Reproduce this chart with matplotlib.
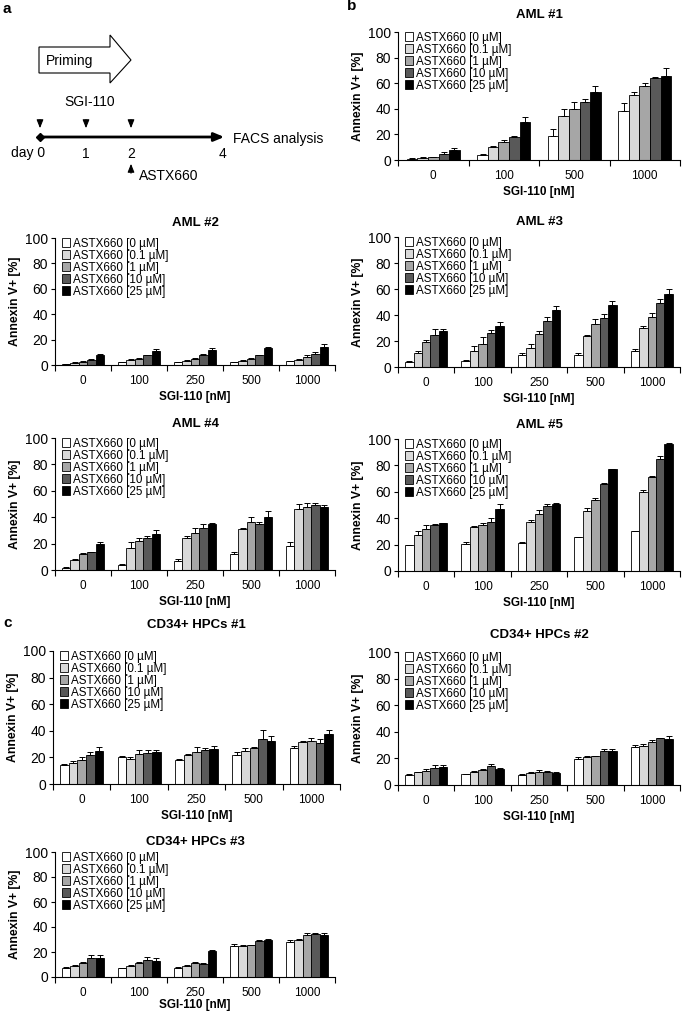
import numpy as np
import matplotlib
matplotlib.use('Agg')
import matplotlib.pyplot as plt
from matplotlib.patches import Polygon

plt.rcParams['font.family'] = ['Liberation Sans', 'DejaVu Sans']

# Legend labels and bar colours
doses = ['ASTX660 [0 µM]', 'ASTX660 [0.1 µM]', 'ASTX660 [1 µM]', 'ASTX660 [10 µM]', 'ASTX660 [25 µM]']
colors = ['#ffffff', '#d9d9d9', '#a6a6a6', '#595959', '#000000']

sgi4 = ['0', '100', '500', '1000']
sgi5 = ['0', '100', '250', '500', '1000']

# Means (rows = SGI-110 dose, cols = ASTX660 dose) and SD
aml1 = [[1, 1.5, 2, 5, 8], [4, 10.5, 14, 18, 30], [18.5, 34, 40, 45, 53], [38.5, 51, 57.5, 64, 66]]
aml1_err = [[0.3, 0.5, 0.5, 1.5, 1.5], [1, 0.3, 2, 0.5, 3.5], [6, 5.5, 5, 3, 5], [6, 2, 3, 0.5, 6]]

aml2 = [[0.5, 1.5, 2.5, 4, 8], [2, 4, 5, 7.5, 11], [2, 3.5, 5, 8, 12], [2, 3.5, 5, 7.5, 13], [3, 4, 6.5, 9, 14.5]]
aml2_err = [[0.3, 0.5, 0.5, 0.5, 1], [0.3, 0.5, 0.5, 0.5, 1.5], [0.5, 0.5, 0.8, 0.5, 1.5], [0.5, 0.3, 0.5, 0.5, 1.5], [0.5, 0.5, 1, 1.5, 2]]

aml3 = [[4, 10.5, 19, 25, 28], [5, 12, 18, 26.5, 31.5], [9.5, 15, 25.5, 35.5, 43.5], [9, 24, 33, 38, 48], [12.5, 30, 38.5, 49, 56]]
aml3_err = [[0.5, 1.5, 2, 4, 1.5], [0.3, 4, 5, 2, 3.5], [1.5, 3, 2.5, 3, 3.5], [1.5, 1, 4, 2.5, 3], [1, 1.5, 3, 3, 4]]

aml4 = [[1.5, 7.5, 12, 13.5, 20], [3.5, 16.5, 22, 24.5, 27.5], [6.5, 24, 28, 32, 35], [12, 31, 36, 34.5, 40], [18.5, 46, 48, 49, 48]]
aml4_err = [[0.5, 0.8, 1, 0.5, 1.5], [1, 5, 2, 1.5, 2.5], [1.5, 2, 3.5, 2.5, 0.5], [1.5, 1, 4.5, 1.5, 5], [3, 4, 3, 2, 1]]

aml5 = [[19.5, 27, 32, 35, 36], [20.5, 33.5, 34.5, 37.5, 47], [21.5, 37.5, 43.5, 49, 51], [25.5, 45.5, 53.5, 66, 77], [30, 60, 71.5, 84.5, 96.5]]
aml5_err = [[0.5, 3, 2.5, 0.5, 0.5], [1.5, 0.5, 1.5, 3, 3.5], [0.5, 1, 3, 1.5, 0.5], [0.5, 2.5, 1.5, 0.3, 0.5], [0.3, 1, 0.5, 2.5, 0.3]]

hpc1 = [[14.5, 16, 18, 22, 25], [20, 19, 22.5, 23.5, 24], [18, 22, 24, 25.5, 26.5], [22, 24.5, 27, 34, 32], [27, 31.5, 32, 31, 37.5]]
hpc1_err = [[0.3, 1.5, 2.5, 2, 2.5], [1, 1, 3, 2, 1.5], [0.5, 0.5, 3.5, 1.5, 2], [2, 2.5, 1, 6.5, 4], [1.5, 0.5, 2.5, 2.5, 3]]

hpc2 = [[7.5, 9.5, 10.5, 13, 13.5], [8, 9.5, 11, 14, 12], [7.5, 9, 10, 10, 9], [19.5, 21, 21.5, 25.5, 25.5], [28.5, 29.5, 32.5, 35, 34.5]]
hpc2_err = [[0.5, 0.5, 1.5, 2, 1.5], [0.5, 1, 1, 2, 1], [0.5, 0.5, 1, 0.5, 0.5], [1.5, 0.5, 0.5, 1.5, 1.5], [1.5, 1, 1.5, 0.5, 2]]

hpc3 = [[7, 9, 11, 15.5, 15], [7, 9, 11.5, 14, 13], [7.5, 9, 11.5, 10.5, 20.5], [25, 25, 25.5, 29, 29.5], [28, 30, 33.5, 34.5, 34]]
hpc3_err = [[1, 0.5, 1, 2, 2.5], [0.5, 0.5, 0.5, 2, 2], [0.5, 0.3, 0.5, 0.5, 1], [1.5, 0.5, 0.5, 0.5, 1], [1.5, 0.5, 1.5, 1, 1]]

W, H = 685, 1011
fig = plt.figure(figsize=(W / 100, H / 100), dpi=100)


def bar_panel(box, title, title_y, cats, vals, errs, xlab_pad=3):
    x0, x1, ytop, ybot = box
    ax = fig.add_axes([x0 / W, 1 - ybot / H, (x1 - x0) / W, (ybot - ytop) / H])
    vals = np.array(vals)
    errs = np.array(errs)
    n = len(cats)
    x = np.arange(n)
    bw = 0.15
    for j in range(5):
        pos = x + (j - 2) * bw
        ax.bar(pos, vals[:, j], bw, color=colors[j], edgecolor='black', linewidth=0.6,
               label=doses[j], zorder=2)
        ax.errorbar(pos, vals[:, j], yerr=[np.zeros(n), errs[:, j]], fmt='none',
                    ecolor='black', elinewidth=0.7, capsize=2, capthick=0.7, zorder=3)
    ax.set_xlim(-0.5, n - 0.5)
    ax.set_ylim(0, 100)
    ax.set_yticks(range(0, 101, 20))
    ax.set_xticks(np.arange(n + 1) - 0.5)
    ax.set_xticklabels([''] * (n + 1))
    ax.set_xticks(x, minor=True)
    ax.set_xticklabels(cats, minor=True)
    ax.tick_params(axis='x', which='major', length=4, width=0.8, direction='out')
    ax.tick_params(axis='x', which='minor', length=0, pad=7, labelsize=8.5)
    ax.tick_params(axis='y', length=3, width=0.8, direction='out', labelsize=10, pad=2)
    for s in ['top', 'right']:
        ax.spines[s].set_visible(False)
    for s in ['left', 'bottom']:
        ax.spines[s].set_linewidth(0.8)
    ax.set_ylabel('Annexin V+ [%]', fontsize=8.8, fontweight='bold', labelpad=3)
    ax.set_xlabel('SGI-110 [nM]', fontsize=8.5, fontweight='bold', labelpad=xlab_pad)
    fig.text((x0 + x1) / 2 / W, 1 - title_y / H, title, fontsize=9.5, fontweight='bold',
             ha='center', va='center')
    ax.legend(loc='upper left', bbox_to_anchor=(0.015, 1.02), frameon=False, fontsize=8.4,
              labelspacing=0.0, handlelength=0.75, handleheight=0.75, handletextpad=0.2,
              borderaxespad=0.1, borderpad=0.1)
    return ax


bar_panel((398, 680, 32, 160), 'AML #1', 15, sgi4, aml1, aml1_err)
bar_panel((55, 335, 238, 365), 'AML #2', 223, sgi5, aml2, aml2_err)
bar_panel((398, 680, 237, 367), 'AML #3', 222, sgi5, aml3, aml3_err)
bar_panel((55, 335, 438, 570), 'AML #4', 424, sgi5, aml4, aml4_err)
bar_panel((398, 680, 439, 571), 'AML #5', 425, sgi5, aml5, aml5_err)
bar_panel((53, 340, 651, 784), 'CD34+ HPCs #1', 625, sgi5, hpc1, hpc1_err)
bar_panel((398, 680, 652, 785), 'CD34+ HPCs #2', 635, sgi5, hpc2, hpc2_err)
bar_panel((55, 335, 852, 977), 'CD34+ HPCs #3', 842, sgi5, hpc3, hpc3_err, xlab_pad=0)

# overlay in pixel coordinates for panel a and panel letters
ov = fig.add_axes([0, 0, 1, 1], zorder=-1)
ov.set_xlim(0, W)
ov.set_ylim(H, 0)
ov.axis('off')

ov.text(3, 9, 'a', fontsize=11, fontweight='bold', va='center')
ov.text(347, 6, 'b', fontsize=11, fontweight='bold', va='center')
ov.text(3, 623, 'c', fontsize=11, fontweight='bold', va='center')

# priming arrow
arrow = Polygon([(39, 47), (110, 47), (110, 35), (131, 60), (110, 83), (110, 73), (39, 73)],
                closed=True, facecolor='white', edgecolor='black', linewidth=0.8)
ov.add_patch(arrow)
ov.text(70, 61, 'Priming', fontsize=10, ha='center', va='center')

# timeline
ov.annotate('', xy=(227, 137), xytext=(40, 137),
            arrowprops=dict(arrowstyle='-|>,head_length=0.6,head_width=0.25', color='black', lw=2))
ov.plot([40], [137], marker='D', color='black', markersize=4)
ov.text(233, 139, 'FACS analysis', fontsize=10, va='center')
ov.text(90, 102, 'SGI-110', fontsize=10, ha='center', va='center')
for xd in [40, 86, 131]:
    ov.annotate('', xy=(xd, 131), xytext=(xd, 117),
                arrowprops=dict(arrowstyle='-|>,head_length=0.5,head_width=0.2', color='black', lw=0.8))
ov.text(45, 153, 'day 0', fontsize=10, ha='right', va='center')
for xd, lab in [(86, '1'), (131, '2'), (223, '4')]:
    ov.text(xd, 154, lab, fontsize=10, ha='center', va='center')
ov.annotate('', xy=(131, 161), xytext=(131, 176),
            arrowprops=dict(arrowstyle='-|>,head_length=0.5,head_width=0.2', color='black', lw=0.8))
ov.text(139, 176, 'ASTX660', fontsize=10, va='center')

fig.savefig('out.png', dpi=100)
